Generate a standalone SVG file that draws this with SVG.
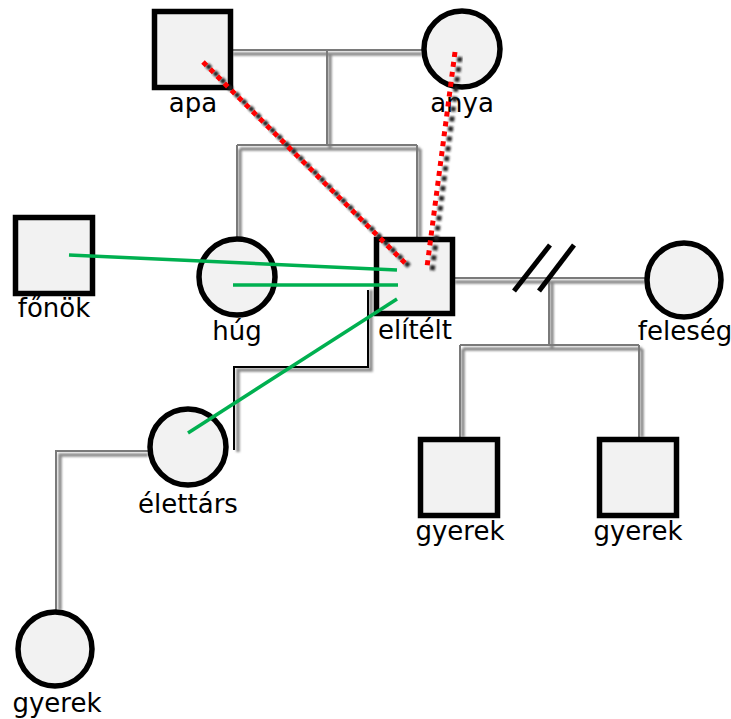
<svg xmlns="http://www.w3.org/2000/svg" width="731" height="719" viewBox="0 0 731 719">
<defs>
<filter id="blur" x="-10%" y="-10%" width="120%" height="120%"><feGaussianBlur stdDeviation="0.9"/></filter>
</defs>
<style>
.node{fill:#f2f2f2;stroke:#000;stroke-width:5.5}
.lbl{font-family:"DejaVu Sans",sans-serif;font-size:26px;fill:#000;text-anchor:middle}
.rel1{fill:none;stroke:#7a7a7a;stroke-width:2}
.rel2{fill:none;stroke:#8a8a8a;stroke-width:3.5;filter:url(#blur)}
.blk{fill:none;stroke:#000;stroke-width:2}
.green{stroke:#00b050;stroke-width:3.5;fill:none}
.red{stroke:#ff0000;stroke-width:5;stroke-dasharray:5 5;fill:none}
.shad{stroke:#222;stroke-width:5;stroke-dasharray:5 5;fill:none;filter:url(#blur)}
.div{stroke:#000;stroke-width:5}
</style>
<g id="connectors">
  <path class="rel2" d="M233,54 H422 M330,54 V148 M240,149 H420 M240,149 V239 M420,149 V237"/>
  <path class="rel1" d="M233,50 H422 M327,50 V145 M237,145 H417 M237,145 V239 M417,145 V237"/>
  <path class="rel2" d="M455,282 H645 M552,282 V348 M463,349 H642 M463,349 V437 M642,349 V437"/>
  <path class="rel1" d="M455,278 H645 M549,278 V345 M460,345 H639 M460,345 V437 M639,345 V437"/>
  <path class="rel2" d="M148,455 H60 V610"/>
  <path class="rel1" d="M148,451 H56 V610"/>
  <path class="rel2" d="M371,290 V370 H238 V452"/>
  <path class="blk" d="M368,290 V367 H234 V450"/>
  <g id="divorce">
    <line class="div" x1="514" y1="291" x2="550" y2="245"/>
    <line class="div" x1="539" y1="291" x2="574" y2="245"/>
  </g>
</g>
<g id="apa"><rect class="node" x="154.5" y="11.5" width="76" height="76"/><text class="lbl" x="193" y="112">apa</text></g>
<g id="anya"><circle class="node" cx="462" cy="49" r="38"/><text class="lbl" x="462" y="112">anya</text></g>
<g id="fonok"><rect class="node" x="15.5" y="217.5" width="77" height="76"/><text class="lbl" x="54" y="317">főnök</text></g>
<g id="hug"><circle class="node" cx="237" cy="277" r="38"/><text class="lbl" x="237" y="340">húg</text></g>
<g id="elitelt"><rect class="node" x="376.5" y="239.5" width="76" height="74"/><text class="lbl" x="415" y="339">elítélt</text></g>
<g id="feleseg"><circle class="node" cx="684" cy="280" r="37"/><text class="lbl" x="685" y="340">feleség</text></g>
<g id="elettars"><circle class="node" cx="188" cy="447" r="38"/><text class="lbl" x="188" y="513">élettárs</text></g>
<g id="gyerek1"><rect class="node" x="420.5" y="439.5" width="77" height="76"/><text class="lbl" x="460" y="540">gyerek</text></g>
<g id="gyerek2"><rect class="node" x="599.5" y="439.5" width="77" height="76"/><text class="lbl" x="638" y="540">gyerek</text></g>
<g id="gyerek3"><circle class="node" cx="55" cy="649" r="37"/><text class="lbl" x="57" y="712">gyerek</text></g>
<g id="relations">
  <line class="green" x1="69" y1="255" x2="397" y2="270"/>
  <line class="green" x1="233" y1="285" x2="398" y2="285"/>
  <line class="green" x1="188" y1="433" x2="397" y2="299"/>
  <line class="shad" x1="207" y1="65" x2="410" y2="267"/>
  <line class="red" x1="203" y1="62" x2="406" y2="264"/>
  <line class="shad" x1="460" y1="57" x2="432" y2="272"/>
  <line class="red" x1="455" y1="52" x2="427" y2="267"/>
</g>
</svg>
